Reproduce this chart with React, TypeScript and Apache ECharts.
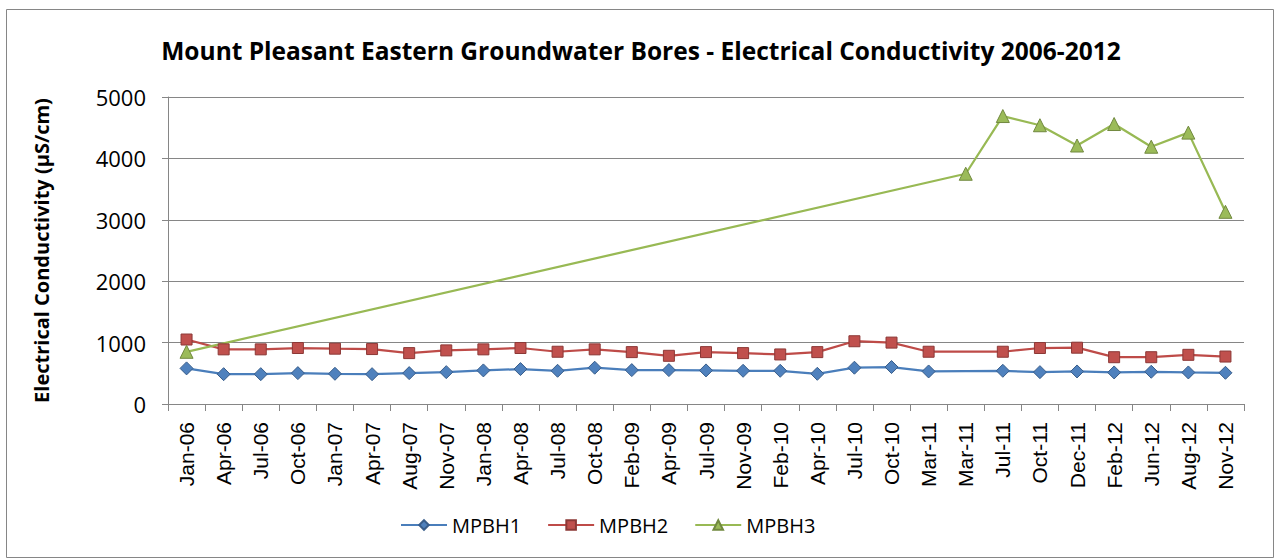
import React, { useEffect, useRef } from "react";
import * as echarts from "echarts";

const categories = [
  "Jan-06", "Apr-06", "Jul-06", "Oct-06", "Jan-07", "Apr-07", "Aug-07", "Nov-07",
  "Jan-08", "Apr-08", "Jul-08", "Oct-08", "Feb-09", "Apr-09", "Jul-09", "Nov-09",
  "Feb-10", "Apr-10", "Jul-10", "Oct-10", "Mar-11", "Mar-11", "Jul-11", "Oct-11",
  "Dec-11", "Feb-12", "Jun-12", "Aug-12", "Nov-12",
];

const mpbh1 = [
  580, 486, 486, 503, 492, 486, 503, 519, 547, 569, 541, 591, 552, 552, 547, 541,
  541, 492, 591, 602, 530, null, 541, 519, 530, 514, 525, 514, 508,
];

const mpbh2 = [
  1050, 890, 890, 912, 901, 895, 829, 873, 890, 912, 851, 890, 845, 785, 845, 829,
  807, 845, 1022, 1000, 851, null, 851, 912, 917, 762, 762, 801, 773,
];

const mpbh3 = [
  850, null, null, null, null, null, null, null, null, null, null, null, null, null, null, null,
  null, null, null, null, null, 3750, 4690, 4540, 4210, 4560, 4190, 4420, 3130,
];

const yTicks = { min: 0, max: 5000, interval: 1000 };

const title = "Mount Pleasant Eastern Groundwater Bores - Electrical Conductivity 2006-2012";
const yName = "Electrical Conductivity (µS/cm)";

export default function App() {
  const ref = useRef<HTMLDivElement>(null);
  useEffect(() => {
    if (!ref.current) return;
    const chart = echarts.init(ref.current, null, { renderer: "svg" });
    const font = "'Open Sans', 'Liberation Sans', sans-serif";
    const fills = ["#4f81bd", "#c0504d", "#9bbb59"];
    const mk = (i: number, name: string, data: any[], color: string, border: string, symbol: string, size: number) => ({
      name,
      type: "line",
      data,
      connectNulls: true,
      symbol,
      symbolSize: size,
      lineStyle: { color, width: 2.25 },
      itemStyle: { color: fills[i], borderColor: border, borderWidth: 1 },
      emphasis: { disabled: true },
    });
    chart.setOption({
      animation: false,
      backgroundColor: "#ffffff",
      textStyle: { fontFamily: font },
      title: {
        text: title,
        left: "center",
        top: 33,
        textStyle: { fontSize: 24.5, fontWeight: "bold", color: "#000", fontFamily: font },
      },
      graphic: [
        {
          type: "rect",
          shape: { x: 6.5, y: 9.5, width: 1267, height: 548 },
          style: { fill: "none", stroke: "#868686", lineWidth: 1 },
          silent: true,
        },
      ],
      legend: {
        bottom: 20,
        left: 395,
        itemWidth: 46,
        itemHeight: 12,
        itemGap: 26,
        textStyle: { fontSize: 20, color: "#000", fontFamily: font },
        data: ["MPBH1", "MPBH2", "MPBH3"],
      },
      grid: { left: 168, right: 38, top: 97, bottom: 156 },
      xAxis: {
        type: "category",
        data: categories,
        boundaryGap: true,
        axisLine: { lineStyle: { color: "#868686", width: 1 } },
        axisTick: { show: true, interval: 0, length: 7, lineStyle: { color: "#868686" } },
        axisLabel: {
          interval: 0,
          rotate: 90,
          fontSize: 21,
          color: "#000",
          margin: 18,
          fontFamily: "'Liberation Sans', Arial, sans-serif",
        },
      },
      yAxis: {
        type: "value",
        min: yTicks.min,
        max: yTicks.max,
        interval: yTicks.interval,
        name: yName,
        nameLocation: "middle",
        nameGap: 117,
        nameTextStyle: { fontSize: 20, fontWeight: "bold", color: "#000", fontFamily: font },
        axisLine: { show: true, lineStyle: { color: "#868686", width: 1 } },
        axisTick: { show: true, length: 6, lineStyle: { color: "#868686" } },
        axisLabel: {
          fontSize: 22,
          color: "#000",
          margin: 22,
          fontFamily: font,
          formatter: (v: number) => String(v),
        },
        splitLine: { show: true, lineStyle: { color: "#868686", width: 1 } },
      },
      series: [
        mk(0, "MPBH1", mpbh1, "#4a7ebb", "#385d8a", "diamond", 13),
        mk(1, "MPBH2", mpbh2, "#be4b48", "#8c3836", "rect", 11),
        mk(2, "MPBH3", mpbh3, "#98b954", "#71893f", "triangle", 13),
      ],
    });
    return () => chart.dispose();
  }, []);
  return (
    <div style={{ position: "fixed", left: 0, top: 0, width: 1282, height: 560 }}>
      <div ref={ref} style={{ width: 1282, height: 560 }} />
    </div>
  );
}
